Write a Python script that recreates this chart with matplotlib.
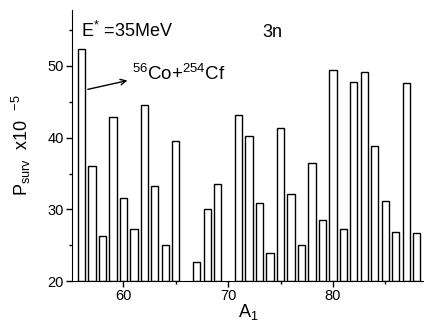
import numpy as np
import matplotlib
matplotlib.use('Agg')
import matplotlib.pyplot as plt
from matplotlib.ticker import MultipleLocator

plt.rcParams['font.family'] = ['Liberation Sans', 'DejaVu Sans']
plt.rcParams['mathtext.fontset'] = 'custom'
plt.rcParams['mathtext.rm'] = 'Liberation Sans'
plt.rcParams['mathtext.it'] = 'Liberation Sans'

a1 = [56, 57, 58, 59, 60, 61, 62, 63, 64, 65,
      67, 68, 69,
      71, 72, 73, 74, 75, 76, 77, 78, 79, 80,
      81, 82, 83, 84, 85, 86, 87, 88]
p_surv = [52.4, 36.0, 26.3, 42.9, 31.6, 27.2, 44.6, 33.3, 25.1, 39.6,
          22.7, 30.1, 33.5,
          43.1, 40.2, 30.9, 23.9, 41.3, 32.1, 25.1, 36.4, 28.5, 49.5,
          27.3, 47.8, 49.1, 38.9, 31.1, 26.9, 47.6, 26.7]

fig = plt.figure(figsize=(4.24, 3.22), dpi=100)
ax = fig.add_axes([0.170, 0.127, 0.830, 0.842])

ax.bar(a1, np.array(p_surv) - 20, bottom=20, width=0.7,
       facecolor='white', edgecolor='black', linewidth=1.0)

ax.set_xlim(55.1, 88.7)
ax.set_ylim(20, 57.8)
ax.xaxis.set_major_locator(MultipleLocator(10))
ax.xaxis.set_minor_locator(MultipleLocator(5))
ax.yaxis.set_major_locator(MultipleLocator(10))
ax.yaxis.set_minor_locator(MultipleLocator(5))
ax.tick_params(which='major', direction='out', length=4, width=1, labelsize=10.5, pad=2)
ax.tick_params(which='minor', direction='out', length=2, width=1)
ax.spines['top'].set_visible(False)
ax.spines['right'].set_visible(False)

ax.set_xlabel(r'A$_{\mathregular{1}}$', fontsize=13, labelpad=-1)
ax.set_ylabel(r'P$_{\mathregular{surv}}$  x10  $^{\mathregular{-5}}$', fontsize=13, labelpad=10)

ax.text(0.025, 0.90, r'E$^{\mathregular{*}}$ =35MeV', transform=ax.transAxes, fontsize=13)
ax.text(0.54, 0.90, '3n', transform=ax.transAxes, fontsize=13)
ax.text(0.17, 0.742, r'$^{\mathregular{56}}$Co+$^{\mathregular{254}}$Cf', transform=ax.transAxes, fontsize=13.5)
ax.annotate('', xy=(0.165, 0.742), xytext=(0.037, 0.705), xycoords='axes fraction',
            arrowprops=dict(arrowstyle='->', color='black', lw=1))

fig.savefig('out.png', dpi=100)
